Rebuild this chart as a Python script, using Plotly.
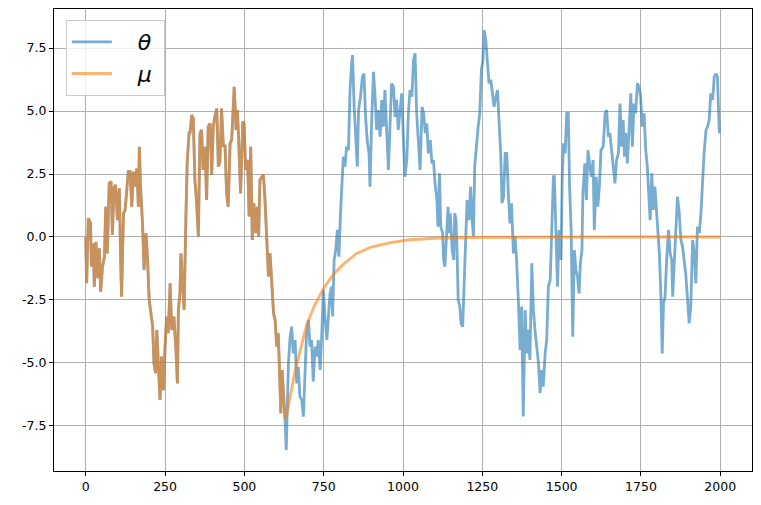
import plotly.graph_objects as go

# ---- data ----
theta_x = [0, 3, 8, 15, 18, 24, 27, 32, 38, 43, 47, 53, 59, 63, 68, 74, 80, 84, 89, 94,
           100, 106, 110, 113, 119, 124, 129, 134, 140, 145, 150, 155, 161, 166, 169, 173, 179, 184, 190, 195,
           200, 206, 211, 215, 220, 224, 229, 234, 239, 245, 250, 255, 260, 266, 271, 278, 285, 289, 292, 297,
           300, 306, 310, 316, 320, 326, 329, 334, 339, 344, 349, 355, 360, 365, 370, 376, 381, 386, 392, 397,
           402, 407, 413, 418, 423, 428, 434, 439, 444, 449, 455, 460, 465, 468, 474, 478, 482, 488, 495, 499,
           504, 510, 515, 520, 525, 530, 536, 541, 545, 549, 555, 560, 565, 570, 576, 581, 586, 592, 597, 602,
           607, 611, 615, 619, 623, 628,
           632, 636, 639, 644, 649, 654, 660, 665, 670, 675, 681, 686, 691, 696, 702, 707, 712, 717, 723, 728,
           733, 739, 744, 749, 754, 760, 765, 770, 775, 778, 783, 788, 793, 798, 803, 807, 812, 817, 822, 828,
           833, 838, 841, 846, 851, 856, 860, 866, 872, 877, 882, 888, 893, 896, 901, 907, 912, 917, 922, 928,
           933, 938, 943, 949, 954, 959, 964, 970, 975, 980, 985, 990, 996, 1001, 1006, 1012, 1017, 1022, 1028, 1033,
           1038, 1043, 1049, 1054, 1060, 1065, 1070, 1075, 1080, 1086, 1091, 1096, 1101, 1107, 1110, 1115, 1119, 1125, 1128, 1132,
           1137, 1142, 1146, 1149, 1155, 1160, 1163, 1167, 1170, 1174, 1179, 1183, 1188, 1192, 1197, 1202, 1208, 1213, 1218, 1222,
           1226, 1231, 1237, 1242, 1247, 1252, 1256, 1261, 1266, 1271, 1277, 1282, 1287, 1293, 1298, 1303, 1308, 1312, 1317, 1322,
           1327, 1332, 1337, 1342, 1348, 1353, 1358, 1364, 1369, 1374, 1379, 1385, 1390, 1395, 1400, 1406, 1411, 1416, 1421, 1427,
           1432, 1437, 1442, 1448, 1453, 1458, 1464, 1469, 1474, 1477, 1482, 1487, 1492, 1498, 1502, 1506, 1511, 1516, 1521, 1525,
           1530, 1535, 1540, 1545, 1550, 1555, 1559, 1564, 1567, 1573, 1578, 1583, 1589, 1594, 1599, 1603, 1609, 1614, 1619, 1624,
           1631, 1637, 1642, 1647, 1652, 1658, 1663, 1668, 1673, 1679, 1684, 1689, 1694, 1698, 1702, 1707, 1712, 1718, 1723, 1728,
           1733, 1739, 1744, 1749, 1754, 1760, 1765, 1770, 1775, 1779, 1784, 1789, 1794, 1800, 1805, 1808, 1813, 1817, 1821, 1826,
           1831, 1837, 1842, 1847, 1850, 1855, 1860, 1865, 1870, 1876, 1881, 1886, 1891, 1897, 1902, 1907, 1913, 1918, 1923, 1928,
           1934, 1939, 1944, 1949, 1955, 1960, 1965, 1970, 1976, 1981, 1986, 1991, 1997]

theta_y = [0.0, -1.84, 0.74, 0.54, -1.18, -0.25, -1.97, -0.19, -1.64, -0.45, -2.17, -1.18, -0.78, 1.2, -0.65, 2.13, 2.2, 0.08, 1.93, 2.07,
           0.67, 1.93, -0.91, -2.37, 0.94, 1.07, 1.79, 2.59, 2.59, 1.2, 2.59, 2.0, 2.72, 1.2, 3.58, 1.93, 0.54, -1.31, 0.15, -0.91,
           -2.5, -3.03, -3.56, -5.01, -5.41, -3.69, -5.34, -6.47, -4.75, -6.08, -4.35, -3.16, -3.82, -1.84, -3.69, -3.16, -4.62, -5.81, -2.9, -2.24,
           -0.65, -2.24, -2.9, 0.94, 2.99, 4.18, 4.11, 4.84, 4.71, 2.26, 1.47, 0.01, 4.11, 4.25, 2.66, 3.58, 1.47, 4.38, 4.51, 2.46,
           4.38, 4.77, 5.1, 2.79, 2.99, 5.1, 3.58, 3.65, 1.73, 1.2, 3.72, 3.85, 5.70, 5.96, 4.25, 5.04, 3.85, 1.73, 4.58, 4.51,
           2.66, 3.06, 0.81, 3.58, -0.12, 1.34, 0.15, 1.2, 0.01, 2.26, 2.39, 2.46, 1.47, 0.15, -1.57, -0.65, -1.97, -3.03, -3.29, -4.35,
           -3.82, -5.15, -7.0, -5.28, -6.07, -7.2,
           -8.45, -6.3, -5.01, -4.0, -3.56, -4.62, -4.09, -5.81, -5.15, -6.34, -6.47, -7.13, -5.41, -3.82, -3.29, -4.35, -4.09, -5.74, -4.35, -4.75,
           -4.09, -5.28, -3.82, -2.10, -3.16, -4.09, -3.16, -2.24, -1.97, -3.16, -0.91, -0.52, 0.28, -0.78, 0.94, 2.26, 3.19, 2.79, 3.58, 3.45,
           5.83, 6.89, 7.22, 5.17, 3.72, 2.79, 5.04, 5.57, 6.36, 6.49, 4.77, 3.72, 3.33, 2.0, 4.51, 6.56, 5.57, 4.25, 5.04, 3.98,
           5.44, 4.38, 5.83, 3.72, 2.66, 4.38, 6.09, 5.96, 4.77, 5.44, 4.25, 4.91, 5.70, 3.98, 2.39, 3.05, 4.91, 5.83, 5.57, 7.02,
           7.29, 4.91, 3.85, 2.66, 5.17, 4.91, 4.12, 4.51, 3.32, 3.85, 2.92, 3.05, 2.13, 1.47, 0.41, 2.53, 0.41, 0.15, -0.91, -1.18,
           0.02, 1.2, 0.15, 0.94, -0.52, -0.91, 0.94, 0.67, -0.39, -2.5, -2.76, -3.43, -3.56, -1.97, 0.41, 1.47, 0.67, 2.0, 0.67, 0.02,
           2.79, 3.58, 4.38, 4.91, 6.63, 7.02, 8.21, 7.82, 6.89, 6.10, 6.23, 5.70, 5.17, 5.57, 5.83, 4.51, 3.32, 1.34, 1.6, 3.32,
           3.32, 1.73, 0.54, 1.34, -0.65, 0.02, -0.91, -2.63, -4.48, -2.76, -7.13, -2.9, -4.62, -3.69, -4.88, -1.04, -2.9, -3.69, -4.35, -5.01,
           -6.2, -5.28, -5.94, -4.62, -4.09, -1.97, -1.71, 0.15, 2.39, 2.39, 0.15, -1.97, 0.28, -0.91, 2.39, 3.72, 3.32, 4.91, 4.91, 2.0,
           0.28, -3.96, -0.52, -1.31, -1.58, -2.24, -1.04, -0.52, 1.73, 2.92, 1.47, 3.45, 2.79, 2.39, 3.05, 0.28, 2.39, 1.2, 2.0, 3.45,
           3.58, 4.91, 5.04, 3.98, 4.12, 3.32, 2.53, 2.13, 3.05, 3.32, 5.30, 3.58, 4.64, 3.19, 4.12, 2.92, 4.12, 5.70, 3.58, 5.30,
           4.91, 6.10, 5.96, 5.57, 4.38, 4.91, 3.45, 2.79, 1.6, 0.67, 2.53, 1.07, 2.0, 0.81, -0.38, -0.65, -2.37, -4.62, -2.63, -2.37,
           -0.91, 0.28, -0.65, -0.91, -2.37, -0.91, 0.41, 1.6, 1.07, -0.12, -0.38, -0.91, -1.44, -2.5, -3.43, -2.76, -0.12, -0.65, -1.84, 0.41,
           0.15, 0.94, 2.39, 3.32, 4.25, 4.38, 4.64, 5.70, 5.44, 6.36, 6.49, 6.36, 4.12]

# mu follows theta up to this step, then relaxes smoothly toward 0
mu_split_x = 628
mu_tail_x = [633, 645, 660, 676, 696, 720, 749, 780, 810, 854, 900, 960, 1020, 1100, 1200, 1350, 1500, 1700, 2000]
mu_tail_y = [-7.1, -6.3, -5.3, -4.5, -3.5, -2.75, -2.05, -1.5, -1.1, -0.65, -0.4, -0.22, -0.11, -0.05, -0.02, -0.01, 0.0, 0.0, 0.0]

y_ticks = [-7.5, -5.0, -2.5, 0.0, 2.5, 5.0, 7.5]
x_ticks = [0, 250, 500, 750, 1000, 1250, 1500, 1750, 2000]

# ---- build ----
n_shared = sum(1 for v in theta_x if v <= mu_split_x)
mu_x = theta_x[:n_shared] + mu_tail_x
mu_y = theta_y[:n_shared] + mu_tail_y

lead = "\u00a0" * 3
tail = "\u00a0"
fig = go.Figure()
fig.add_trace(go.Scatter(x=theta_x, y=theta_y, mode="lines", name=lead + "<i>θ</i>" + tail,
                         line=dict(color="#1f77b4", width=2.8), opacity=0.6))
fig.add_trace(go.Scatter(x=mu_x, y=mu_y, mode="lines", name=lead + "<i>μ</i>" + tail,
                         line=dict(color="#ff7f0e", width=2.8), opacity=0.6))

axis_common = dict(showline=True, linecolor="black", linewidth=1, mirror=True,
                   ticks="outside", ticklen=4, tickcolor="black", tickwidth=1,
                   showgrid=True, gridcolor="#b0b0b0", gridwidth=0.8, zeroline=False,
                   tickfont=dict(family="DejaVu Sans", size=12.5, color="black"))

fig.update_xaxes(range=[-100, 2100], tickvals=x_ticks, ticktext=[str(v) for v in x_ticks], **axis_common)
fig.update_yaxes(range=[-9.29, 9.05], tickvals=y_ticks, ticktext=[f"{v:.1f}" for v in y_ticks], **axis_common)

fig.update_layout(
    width=761, height=505,
    margin=dict(l=54, r=9, t=9, b=34),
    paper_bgcolor="white", plot_bgcolor="white",
    font=dict(family="DejaVu Sans", color="black"),
    legend=dict(x=0.017, y=0.976, xanchor="left", yanchor="top",
                bgcolor="rgba(255,255,255,0.8)", bordercolor="#cccccc", borderwidth=1,
                font=dict(family="DejaVu Sans", size=22, color="black"),
                itemwidth=40, tracegroupgap=6),
    showlegend=True,
)

fig.write_html("out.html")
